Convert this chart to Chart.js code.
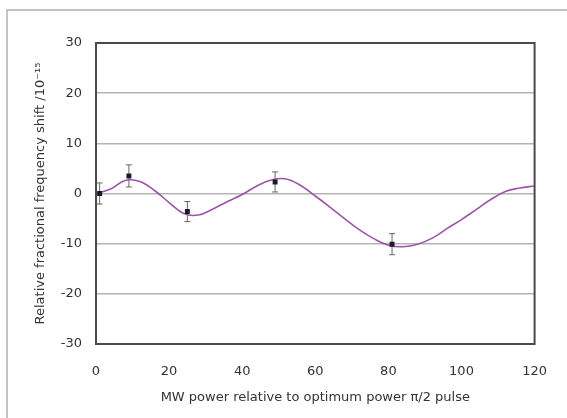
<!DOCTYPE html>
<html>
<head>
<meta charset="utf-8">
<script src="https://cdn.jsdelivr.net/npm/chart.js@4.4.0/dist/chart.umd.min.js"></script>
<style>
    body { margin: 0; background: #fff; }
    #wrap { width: 567px; height: 418px; }
</style>
</head>
<body>
<div id="wrap"><canvas id="chartShift" width="567" height="418"></canvas></div>
<script>
// measured points (MW power, shift) with +/- error
const pointX = [1, 9, 25, 49, 81];
const pointY = [0, 3.5, -3.6, 2.3, -10.1];
const pointErr = [2.1, 2.2, 2.0, 2.0, 2.1];

// fitted curve
const curveX = [0, 4, 8, 12, 16, 20, 24, 28, 32, 36, 40, 44, 48, 52, 56, 60, 64, 68, 72, 76, 80, 84, 88, 92, 96, 100, 104, 108, 112, 116, 120];
const curveY = [0, 0.9, 2.6, 2.4, 0.6, -1.8, -4.0, -4.3, -3.1, -1.6, -0.2, 1.5, 2.7, 2.9, 1.6, -0.5, -2.7, -5.0, -7.2, -9.0, -10.3, -10.6, -10.1, -8.9, -7.0, -5.2, -3.2, -1.2, 0.4, 1.1, 1.5];

const xTicks = [0, 20, 40, 60, 80, 100, 120];
const yTicks = [-30, -20, -10, 0, 10, 20, 30];

const textColor = "#333";
const tickFont = { family: "DejaVu Sans", size: 13 };

function toXY(xs, ys) {
    return xs.map((x, i) => ({ x: x, y: ys[i] }));
}

// outer frame of the figure
const framePlugin = {
    id: "frame",
    beforeDraw(chart) {
        const ctx = chart.ctx;
        ctx.save();
        ctx.strokeStyle = "#c4c4c4";
        ctx.lineWidth = 2;
        ctx.strokeRect(7, 10, 600, 500);
        ctx.restore();
    }
};

// box around the plot area
const boxPlugin = {
    id: "box",
    afterDraw(chart) {
        const a = chart.chartArea;
        const ctx = chart.ctx;
        ctx.save();
        ctx.strokeStyle = "#4a4a4a";
        ctx.lineWidth = 2;
        ctx.strokeRect(a.left, a.top, a.right - a.left, a.bottom - a.top);
        ctx.restore();
    }
};

// vertical error bars on the measured points
const errorBarPlugin = {
    id: "errorBars",
    beforeDatasetsDraw(chart) {
        const xs = chart.scales.x;
        const ys = chart.scales.y;
        const ctx = chart.ctx;
        ctx.save();
        ctx.strokeStyle = "#666";
        ctx.lineWidth = 1;
        pointX.forEach((v, i) => {
            const px = xs.getPixelForValue(v);
            const top = ys.getPixelForValue(pointY[i] + pointErr[i]);
            const bot = ys.getPixelForValue(pointY[i] - pointErr[i]);
            ctx.beginPath();
            ctx.moveTo(px, top);
            ctx.lineTo(px, bot);
            ctx.moveTo(px - 3, top);
            ctx.lineTo(px + 3, top);
            ctx.moveTo(px - 3, bot);
            ctx.lineTo(px + 3, bot);
            ctx.stroke();
        });
        ctx.restore();
    }
};

new Chart(document.getElementById("chartShift"), {
    type: "scatter",
    data: {
        datasets: [{
            label: "measured",
            data: toXY(pointX, pointY),
            pointStyle: "rect",
            pointRadius: 3.5,
            backgroundColor: "#1a1a2a",
            borderColor: "#1a1a2a",
            borderWidth: 0
        }, {
            label: "fit",
            data: toXY(curveX, curveY),
            showLine: true,
            pointRadius: 0,
            borderColor: "#9c55a8",
            borderWidth: 1.6,
            tension: 0.4
        }]
    },
    options: {
        responsive: false,
        animation: false,
        layout: { padding: { left: 8, top: 43, right: 26, bottom: 0 } },
        plugins: {
            legend: { display: false },
            tooltip: { enabled: false }
        },
        scales: {
            x: {
                type: "linear",
                min: 0,
                max: 120,
                afterBuildTicks: s => { s.ticks = xTicks.map(v => ({ value: v })); },
                afterFit: s => { s.height = 74; },
                grid: { display: false, drawTicks: false },
                border: { display: false },
                ticks: { color: textColor, font: tickFont, padding: 20, maxRotation: 0 },
                title: {
                    display: true,
                    text: "MW power relative to optimum power π/2 pulse",
                    color: textColor,
                    font: tickFont,
                    padding: { top: 0, bottom: 13 }
                }
            },
            y: {
                type: "linear",
                min: -30,
                max: 30,
                afterBuildTicks: s => { s.ticks = yTicks.map(v => ({ value: v })); },
                afterFit: s => { s.width = 88; },
                grid: { color: "#b4b4b4", lineWidth: 1.5, drawTicks: false },
                border: { display: false },
                ticks: { color: textColor, font: tickFont, padding: 14 },
                title: {
                    display: true,
                    text: "Relative fractional frequency shift /10⁻¹⁵",
                    color: textColor,
                    font: tickFont,
                    padding: { top: 25, bottom: 0 }
                }
            }
        }
    },
    plugins: [framePlugin, errorBarPlugin, boxPlugin]
});
</script>
</body>
</html>
